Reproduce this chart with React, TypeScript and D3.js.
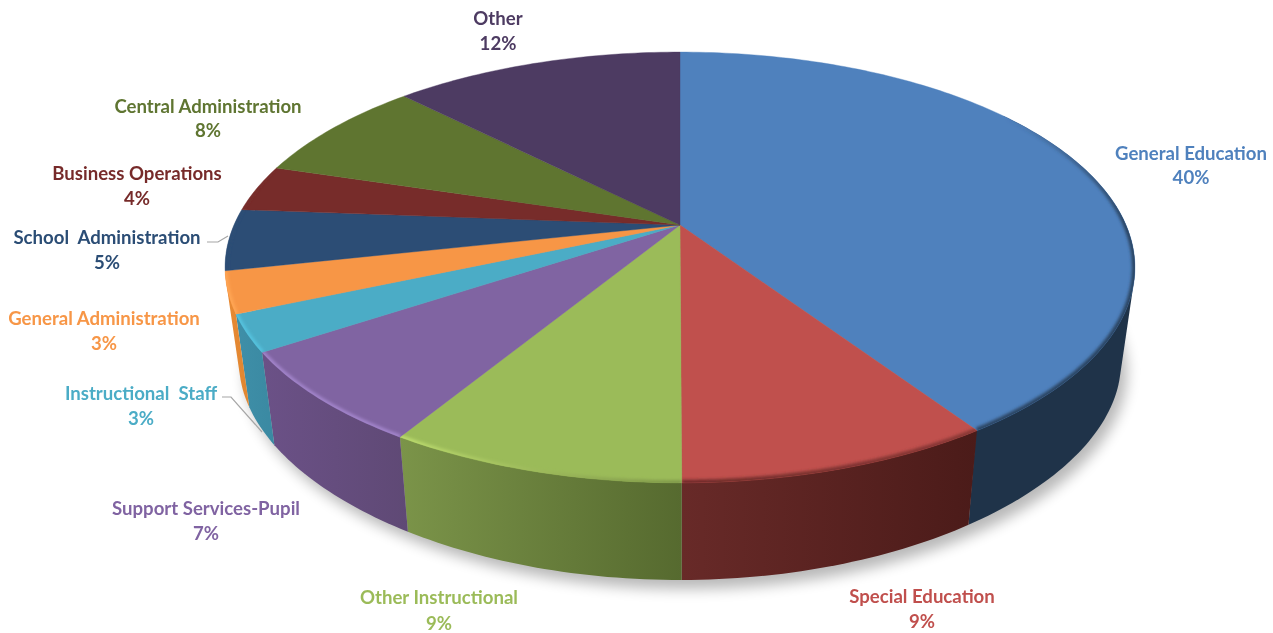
import React from "react";
import * as d3 from "d3";

// Data
const categories = [
  "General Education", "Special Education", "Other Instructional", "Support Services-Pupil",
  "Instructional  Staff", "General Administration", "School  Administration", "Business Operations",
  "Central Administration", "Other",
];
const sliceValues = [40.6, 9.35, 8.8, 7.0, 2.75, 3.1, 4.6, 3.5, 7.85, 12.45];
const percentLabels = ["40%", "9%", "9%", "7%", "3%", "3%", "5%", "4%", "8%", "12%"];

// Styles
const topColors = ["#4f81bd", "#c0504d", "#9bbb59", "#8064a2", "#4bacc6", "#f79646", "#2c4d75", "#772c2a", "#5f7530", "#4d3b62"];
const wallLeft = ["#1f3349", "#682a28", "#7b9449", "#6b5187", "#3f8fa8", "#e88a35", "#1f3349", "#4f1d1b", "#3f4e20", "#33273f"];
const wallRight = ["#1f3349", "#4b1b19", "#566a2f", "#5f4975", "#3a89a2", "#e0862f", "#1f3349", "#4f1d1b", "#3f4e20", "#33273f"];
const rimLeft = ["#2a4462", "#6e2b29", "#bcdc6e", "#a284ca", "#55c2de", "#ffa654", "#2c4d75", "#772c2a", "#5f7530", "#4d3b62"];
const rimRight = ["#2a4462", "#8a3836", "#7d9648", "#a284ca", "#55c2de", "#ffa654", "#2c4d75", "#772c2a", "#5f7530", "#4d3b62"];
const labelCenters: [number, number, number][] = [
  [1191, 152.5, 176.5], [922, 595.5, 620.5], [439, 596.5, 622.5], [206, 507.5, 532.5], [141, 392.5, 417.5],
  [104, 317.5, 342.5], [107, 236.5, 261.5], [137, 172.5, 197.5], [208, 105.5, 129.5], [498, 17.5, 42.5],
];
const leaderLines: [number, number][][] = [
  [[207, 242], [218, 242], [228, 236]],
  [[222, 397], [231, 397], [262, 432]],
];

const W = 1273, H = 633;
const apexX = 680, apexY = 225;
const top = { X: 446, Y: 207, kx: 0.197, ky: 0.197, dy: 0 };
const bottom = { X: 432, Y: 193.5, kx: 0.2, ky: 0.25, dy: 97 };

type Plane = typeof top;
const project = (t: number, p: Plane): [number, number] => {
  const v = -Math.cos(t);
  return [apexX + (p.X * Math.sin(t)) / (1 - p.kx * v), apexY + p.dy + (p.Y * v) / (1 - p.ky * v)];
};
const sample = (a: number, b: number, p: Plane): [number, number][] => {
  const n = Math.max(2, Math.ceil(((b - a) * 180) / Math.PI));
  return d3.range(n + 1).map((i) => project(a + ((b - a) * i) / n, p));
};

const line = d3.line<[number, number]>();
const arcs = d3.pie<number>().sort(null).value((d) => d)(sliceValues);
const FONT = "Lato, 'Open Sans', sans-serif";
const apex: [number, number] = [apexX, apexY];
const wallStart = Math.PI * 0.3;
const rimStart = Math.PI * 0.3;
const rimFade = Math.PI * 0.2;
const rimEnd = Math.PI * 1.6;

export default function App() {
  const full = sample(0, 2 * Math.PI, bottom);
  const frontSlices = arcs.map((a, i) => ({ a, i })).filter(({ a }) => a.startAngle < Math.PI * 1.4);
  return (
    <svg width={W} height={H} viewBox={`0 0 ${W} ${H}`} style={{ position: "absolute", left: 0, top: 0, display: "block", background: "#fff" }}>
      <defs>
        <filter id="shadow" x="-10%" y="-20%" width="120%" height="140%"><feGaussianBlur stdDeviation="7" /></filter>
        <filter id="rim" filterUnits="userSpaceOnUse" x="0" y="0" width={W} height={H}><feGaussianBlur stdDeviation="1.6" /></filter>
        <filter id="soft" x="-5%" y="-20%" width="110%" height="140%"><feGaussianBlur stdDeviation="0.35" /></filter>
        {arcs.map((a, i) => {
          const xs = [...sample(a.startAngle, a.endAngle, bottom), ...sample(a.startAngle, a.endAngle, top)].map((p) => p[0]);
          return (
            <React.Fragment key={i}>
              <linearGradient id={`wall${i}`} gradientUnits="userSpaceOnUse" x1={d3.min(xs)} x2={d3.max(xs)} y1={0} y2={0}>
                <stop offset="0" stopColor={wallLeft[i]} />
                <stop offset="1" stopColor={wallRight[i]} />
              </linearGradient>
              <linearGradient id={`rim${i}`} gradientUnits="userSpaceOnUse" x1={d3.min(xs)} x2={d3.max(xs)} y1={0} y2={0}>
                <stop offset="0" stopColor={rimLeft[i]} />
                <stop offset="1" stopColor={rimRight[i]} />
              </linearGradient>
            </React.Fragment>
          );
        })}
        {arcs.map((a, i) => (
          <clipPath key={i} id={`clip${i}`}>
            <path d={line([apex, ...sample(a.startAngle, a.endAngle, top)])! + "Z"} />
          </clipPath>
        ))}
      </defs>

      {/* soft shadow under the disc */}
      <path d={line(full)! + "Z"} fill="#000" opacity={0.28} filter="url(#shadow)" transform="translate(6,9)" />

      {/* walls: hull of both rims of a slice, the top faces cover the inner part */}
      {frontSlices.map(({ a, i }) => {
        const s = Math.max(a.startAngle, wallStart);
        const hull = d3.polygonHull([...sample(s, a.endAngle, top), ...sample(s, a.endAngle, bottom)])!;
        return <path key={i} d={line(hull)! + "Z"} fill={`url(#wall${i})`} />;
      })}

      {/* top faces */}
      {arcs.map((a, i) => (
        <path key={i} d={line([apex, ...sample(a.startAngle, a.endAngle, top)])! + "Z"} fill={topColors[i]} stroke={topColors[i]} strokeWidth={0.4} />
      ))}

      {/* bevel along the front of the rim, fading in from the back */}
      {arcs.map((a, i) => {
        const s = Math.max(a.startAngle, rimStart);
        const e = Math.min(a.endAngle, rimEnd);
        if (e <= s) return null;
        const n = Math.ceil(((e - s) * 180) / Math.PI);
        return (
          <g key={i} clipPath={`url(#clip${i})`}>
            <g filter="url(#rim)" fill="none" stroke={`url(#rim${i})`} strokeWidth={i < 2 ? 6 : 5}>
              {d3.range(n).map((j) => {
                const t0 = s + ((e - s) * j) / n;
                const t1 = s + ((e - s) * (j + 1.1)) / n;
                const o = Math.min(1, (t0 - rimStart) / rimFade) * Math.min(1, (rimEnd - t0) / rimFade);
                return <path key={j} d={line(sample(t0, Math.min(t1, e), top))!} opacity={o} />;
              })}
            </g>
          </g>
        );
      })}

      {/* leader lines */}
      {leaderLines.map((pts, i) => (
        <path key={i} d={line(pts)!} fill="none" stroke="#a6a6a6" strokeWidth={1.2} />
      ))}

      {/* labels */}
      <g filter="url(#soft)" fontFamily={FONT} fontWeight={700} fontSize={18.6} textAnchor="middle">
        {categories.map((c, i) => (
          <text key={i} fill={topColors[i]}>
            <tspan x={labelCenters[i][0]} y={labelCenters[i][1]} dominantBaseline="central" style={{ whiteSpace: "pre" }}>{c}</tspan>
            <tspan x={labelCenters[i][0]} y={labelCenters[i][2]} dominantBaseline="central">{percentLabels[i]}</tspan>
          </text>
        ))}
      </g>
    </svg>
  );
}
